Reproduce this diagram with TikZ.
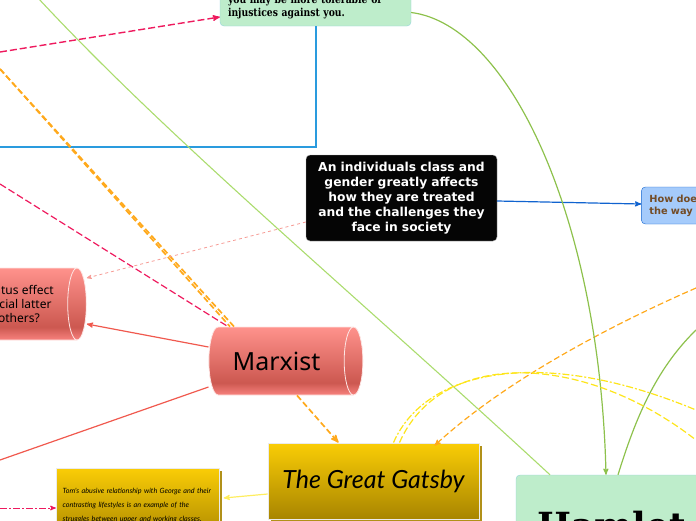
\documentclass[tikz,border=0pt]{standalone}
\usepackage{fontspec}
\usepackage{tikz}
\usetikzlibrary{arrows,shapes,positioning,shadows}
\newfontfamily\slabfont[FakeStretch=0.84]{DejaVu Serif}
\newfontfamily\titlefont{DejaVu Serif}
\newfontfamily\cylfont{Noto Sans}
\newfontfamily\handfont{Lato}
\newfontfamily\boldsans{DejaVu Sans}
\definecolor{leaf}{HTML}{BEEDCB}
\definecolor{leafline}{HTML}{93D3DC}
\definecolor{skyline}{HTML}{2A9BDE}
\definecolor{crimson}{HTML}{EE1A5E}
\definecolor{amber}{HTML}{FFA91C}
\definecolor{salmon}{HTML}{F0594E}
\definecolor{lime}{HTML}{ABDC6E}
\definecolor{moss}{HTML}{8DC14C}
\definecolor{lemon}{HTML}{FDE51B}
\definecolor{paleblue}{HTML}{A5CBFB}
\definecolor{royal}{HTML}{1063CF}
\definecolor{gold1}{HTML}{FACD06}
\definecolor{gold2}{HTML}{A88500}
\definecolor{cyltop}{HTML}{FF928C}
\definecolor{cylmid}{HTML}{CC5850}
\definecolor{cylbot}{HTML}{F8827E}
\pgfdeclareverticalshading{cylshade}{100bp}{
	color(0bp)=(cylbot);
	color(25bp)=(cylbot);
	color(34bp)=(cylmid);
	color(75bp)=(cyltop);
	color(100bp)=(cyltop)
}
\tikzset{
	leafbox/.style={
		rectangle,
		rounded corners=4pt,
		draw=leafline,
		fill=leaf,
		inner sep=0pt,
	},
	cylbox/.style={
		cylinder,
		shape aspect=1,
		shading=cylshade,
		draw=white!85!salmon,
		thick,
		inner sep=0pt,
	},
	goldbox/.style={
		rectangle,
		draw=black!8,
		thick,
		top color=gold1,
		bottom color=gold2,
		general shadow={fill=gold2!90!white,shadow xshift=3pt,shadow yshift=-3pt},
		inner sep=0pt,
	},
}
\begin{document}
\begin{tikzpicture}[x=1pt,y=-1pt,>=stealth']
		\useasboundingbox (0,0) rectangle (696,520);
		\clip (0,0) rectangle (696,520);
		% nodes
		\node [leafbox,minimum width=191pt,minimum height=37pt,text width=175pt,align=left,font=\slabfont\bfseries\fontsize{11}{13}\selectfont] (greatbox) at (315.5,7.5) {you may be more tolerable of\\injustices against you.};
		\node [rectangle,rounded corners=4pt,fill=black!98,draw=black!30,minimum width=191pt,minimum height=86pt,text width=185pt,align=center,text=white,inner sep=0pt,font=\boldsans\bfseries\fontsize{12.3}{15}\selectfont] (blackbox) at (401.5,198) {An individuals class and\\gender greatly affects\\how they are treated\\and the challenges they\\face in society};
		\node [rectangle,rounded corners=4pt,draw=royal,fill=paleblue,minimum width=100pt,minimum height=37pt,text width=84pt,align=left,text=brown!60!black,inner sep=0pt,font=\boldsans\bfseries\fontsize{9.8}{12}\selectfont] (bluebox) [right=144pt of blackbox,yshift=-7.5pt] {How does\\the way};
		\node [cylbox,minimum width=68pt,minimum height=154pt,font=\cylfont\fontsize{25}{30}\selectfont] (marxist) at (281,361) {Marxist\hspace*{9pt}};
		\node [cylbox,shape aspect=0.5,minimum width=72pt,minimum height=125pt,align=center,font=\cylfont\fontsize{12}{14}\selectfont] (statusbox) at (19,304) {status effect\\social latter\\others?};
		\node [goldbox,minimum width=211pt,minimum height=76pt,font=\handfont\itshape\fontsize{25}{30}\selectfont] (gatsby) at (373.5,481) {The Great Gatsby};
		\node [goldbox,minimum width=163pt,minimum height=74pt,text width=150pt,align=left,font=\handfont\itshape\fontsize{7.2}{14}\selectfont] (tombox) [left=48pt of gatsby,yshift=-24pt] {Tom's abusive relationship with George and their\\contrasting lifestyles is an example of the\\struggles between upper and working classes.};
		\node [leafbox,minimum width=204pt,minimum height=100pt,font=\titlefont\bfseries\fontsize{36}{40}\selectfont] (hamlet) at (618,525) {Hamlet\hspace*{13pt}};
		% free ends
		\coordinate (blueleft) at (0,147);
		\coordinate (limetop) at (38,-2);
		\coordinate (crimsonup) at (0,52);
		\coordinate (crimsonlow) at (0,184);
		\coordinate (amberup) at (0,69);
		\coordinate (salmonfree) at (0,460);
		\coordinate (crimsonleft) at (0,508);
		\coordinate (amberright) at (696,288);
		\coordinate (mossright) at (696,330);
		\coordinate (lemonone) at (696,410);
		\coordinate (lemontwo) at (696,440);
		% connectors
		\draw [skyline,line width=2pt] (greatbox.south) |- (blueleft);
		\draw [lime,line width=1.1pt] (limetop) .. controls (170,140) and (350,290) .. ([xshift=-68pt]hamlet.north);
		\draw [crimson,line width=1.4pt,dash pattern=on 7pt off 3pt,->] (crimsonup) -- ([yshift=-9.5pt]greatbox.west);
		\draw [crimson,line width=1.2pt,dash pattern=on 7pt off 3pt] (crimsonlow) -- ([xshift=-53pt]marxist.north);
		\draw [amber,line width=1.7pt,dash pattern=on 6pt off 3pt] (amberup) -- ([xshift=-51pt]marxist.north);
		\draw [amber,line width=1.7pt,dash pattern=on 6pt off 3pt] (amberup) -- ([xshift=-47pt]marxist.north);
		\draw [amber,line width=1.7pt,dash pattern=on 6pt off 3pt,->] ([xshift=16pt]marxist.south) -- ([xshift=-35pt]gatsby.north);
		\draw [amber,line width=1.2pt,dash pattern=on 6pt off 3pt,->] (amberright) .. controls (600,330) and (500,385) .. ([xshift=61pt,yshift=-3pt]gatsby.north);
		\draw [salmon,line width=1.2pt,->] ([yshift=14pt]marxist.west) -- ([yshift=-20pt]statusbox.east);
		\draw [salmon,line width=1.2pt] ([yshift=-26pt]marxist.west) -- (salmonfree);
		\draw [salmon!60,line width=0.8pt,dashed,->] ([yshift=-24pt]blackbox.west) -- ([yshift=26pt]statusbox.east);
		\draw [royal,line width=1.2pt,->] ([yshift=-3pt]blackbox.east) -- ([yshift=1.5pt]bluebox.west);
		\draw [moss,line width=1.2pt,->] ([yshift=-5pt]greatbox.east) .. controls (510,25) and (600,220) .. ([xshift=-12pt]hamlet.north);
		\draw [moss,line width=1.2pt] (hamlet.north) .. controls (635,420) and (655,370) .. (mossright);
		\draw [lemon,line width=1.2pt,dash pattern=on 7pt off 2pt on 2pt off 2pt] ([xshift=20pt]gatsby.north) .. controls (425,370) and (540,345) .. (lemonone);
		\draw [lemon,line width=1.2pt,dash pattern=on 7pt off 3pt] ([xshift=26pt]gatsby.north) .. controls (440,350) and (580,350) .. (lemontwo);
		\draw [lemon!70,line width=1.2pt,->] ([yshift=-13pt]gatsby.west) -- ([xshift=4pt,yshift=7pt]tombox.east);
		\draw [crimson,line width=1pt,dash pattern=on 7pt off 2pt on 2pt off 2pt,->] (crimsonleft) -- ([yshift=-3pt]tombox.west);
		\end{tikzpicture}
\end{document}
